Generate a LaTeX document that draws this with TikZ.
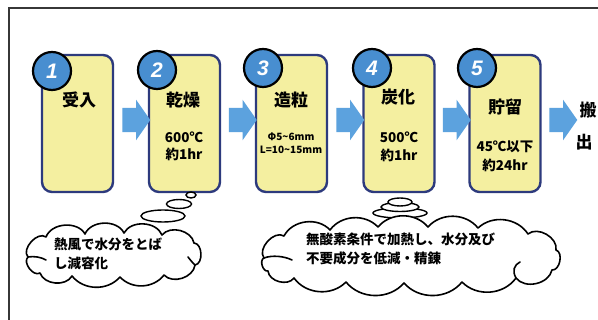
\documentclass[tikz,border=0pt]{standalone}
\usepackage{fontspec}
\newfontfamily\jp{Noto Sans CJK JP}
\newfontfamily\lat{Liberation Sans}
\usetikzlibrary{shapes.arrows,shapes.geometric,calc}
\definecolor{boxfill}{RGB}{244,239,160}
\definecolor{boxline}{RGB}{45,58,125}
\definecolor{numblue}{RGB}{72,142,208}
\definecolor{arrblue}{RGB}{92,162,222}
\definecolor{framec}{RGB}{55,55,55}
\begin{document}
\begin{tikzpicture}[x=1pt,y=-1pt,
  stepbox/.style={draw=boxline, line width=2.4pt, fill=boxfill, rounded corners=10pt,
    minimum width=71pt, minimum height=137pt, inner sep=0pt},
  numcirc/.style={circle, fill=numblue, draw=black, line width=2.2pt, minimum size=38pt,
    inner sep=0pt, text=white, font=\lat\bfseries\itshape\fontsize{21}{21}\selectfont},
  title/.style={font=\jp\bfseries\fontsize{17}{17}\selectfont, inner sep=0pt},
  sub/.style={font=\jp\bfseries\fontsize{13.5}{13.5}\selectfont, inner sep=0pt},
  subsmall/.style={font=\jp\bfseries\fontsize{10}{10}\selectfont, inner sep=0pt},
  blockarrow/.style={single arrow, fill=arrblue, draw=none, inner xsep=0pt, inner ysep=12pt,
    minimum height=28pt, single arrow head extend=8pt, single arrow tip angle=110},
  cloudline/.style={draw=black, line width=1.6pt, fill=white, line join=round},
  puff/.style={bend left=#1},
  bubble/.style={ellipse, draw=black, line width=1.4pt, fill=white, inner sep=0pt},
  curl/.style={draw=black, line width=1.6pt, line cap=round},
  cloudtext/.style={font=\jp\bfseries\fontsize{13.5}{19}\selectfont, inner sep=0pt,
    align=left, anchor=west}
]
\useasboundingbox (0,0) rectangle (598,320);
\clip (0,0) rectangle (598,320);
\fill[white] (0,0) rectangle (598,320);
% frame
\coordinate (fbl) at (9,321);
\coordinate (ftl) at (9,8);
\coordinate (ftr) at (599,8);
\draw[framec, line width=1.8pt] (fbl) -- (ftl) -- (ftr);

% boxes
\node[stepbox] (b1) at (77.5,123.5) {};
\node[stepbox] (b2) at (184.5,123.5) {};
\node[stepbox] (b3) at (291.5,123.5) {};
\node[stepbox] (b4) at (399,123.5) {};
\node[stepbox] (b5) at (505,123.5) {};

% circles
\node[numcirc] (c1) at (52,71) {1};
\node[numcirc] (c2) at (157,70) {2};
\node[numcirc] (c3) at (263,68) {3};
\node[numcirc] (c4) at (372,68) {4};
\node[numcirc] (c5) at (477,68) {5};

% titles
\node[title] (t1) at (79,100) {受入};
\node[title] (t2) at (183,100) {乾燥};
\node[title] (t3) at (291,100) {造粒};
\node[title] (t4) at (398,97) {炭化};
\node[title] (t5) at (505,107) {貯留};

% sub texts
\node[sub] (s2a) at (184,137) {600℃};
\node[sub] (s2b) at (184,154) {約1hr};
\node[subsmall] (s3a) at (291,137) {Φ5\char"007E 6mm};
\node[subsmall] (s3b) at (291,150) {L=10\char"007E 15mm};
\node[sub] (s4a) at (399,137) {500℃};
\node[sub] (s4b) at (399,155) {約1hr};
\node[sub] (s5a) at (505,147) {45℃以下};
\node[sub] (s5b) at (505,165) {約24hr};

% arrows
\node[blockarrow] (a1) at (132,120) {};
\node[blockarrow] (a2) at (238.5,120) {};
\node[blockarrow] (a3) at (346,120) {};
\node[blockarrow] (a4) at (452.5,120) {};
\node[blockarrow] (a5) at (559,120) {};

\node[title] (o1) at (588,110) {搬};
\node[title] (o2) at (584,142) {出};

% cloud 1
\node[bubble, minimum width=10pt, minimum height=6pt] (e1) at (191,195) {};
\node[bubble, minimum width=25pt, minimum height=9pt] (e2) at (179,204) {};
\node[bubble, minimum width=44pt, minimum height=12pt] (e3) at (163,216) {};
\coordinate (p1) at (28,257);
\coordinate (p2) at (46,237);
\coordinate (p3) at (85,234);
\coordinate (p4) at (124,233);
\coordinate (p5) at (162,235);
\coordinate (p6) at (194,243);
\coordinate (p7) at (195,265);
\coordinate (p8) at (164,275);
\coordinate (p9) at (120,277);
\coordinate (p10) at (72,276);
\coordinate (p11) at (40,273);
\draw[cloudline] (p1) to[puff=85] (p2) to[puff=65] (p3) to[puff=65] (p4) to[puff=65] (p5)
  to[puff=65] (p6) to[puff=85] (p7) to[puff=65] (p8) to[puff=50] (p9) to[puff=50] (p10)
  to[puff=65] (p11) to[puff=85] (p1) -- cycle;
\coordinate (k1a) at (28,257);
\coordinate (k1b) at (46,260);
\draw[curl] (k1a) .. controls (34,256) and (41,257) .. (k1b);
\coordinate (k1c) at (195,265);
\coordinate (k1d) at (188,257);
\draw[curl] (k1c) .. controls (192,262) .. (k1d);
\node[cloudtext] (ct1) at (54,254) {熱風で水分をとば\\し減容化};

% cloud 2
\node[bubble, minimum width=54pt, minimum height=10pt] (f3) at (400,213) {};
\node[bubble, minimum width=38pt, minimum height=9pt] (f2) at (400,207) {};
\node[bubble, minimum width=24pt, minimum height=8pt] (f1) at (400,202) {};
\coordinate (q1) at (264,258);
\coordinate (q2) at (284,236);
\coordinate (q3) at (330,230);
\coordinate (q4) at (378,227);
\coordinate (q5) at (428,227);
\coordinate (q6) at (478,228);
\coordinate (q7) at (528,234);
\coordinate (q8) at (556,250);
\coordinate (q9) at (552,270);
\coordinate (q10) at (516,278);
\coordinate (q11) at (462,282);
\coordinate (q12) at (404,283);
\coordinate (q13) at (346,282);
\coordinate (q14) at (294,278);
\coordinate (q15) at (268,271);
\draw[cloudline] (q1) to[puff=80] (q2) to[puff=55] (q3) to[puff=50] (q4) to[puff=50] (q5)
  to[puff=50] (q6) to[puff=50] (q7) to[puff=70] (q8) to[puff=85] (q9) to[puff=65] (q10)
  to[puff=50] (q11) to[puff=50] (q12) to[puff=50] (q13) to[puff=50] (q14)
  to[puff=70] (q15) to[puff=85] (q1) -- cycle;
\coordinate (k2a) at (264,258);
\coordinate (k2b) at (292,260);
\draw[curl] (k2a) .. controls (272,255) and (284,256) .. (k2b);
\coordinate (k2c) at (516,278);
\coordinate (k2d) at (520,262);
\draw[curl] (k2c) .. controls (512,271) and (514,265) .. (k2d);
\node[cloudtext] (ct2) at (306,249) {無酸素条件で加熱し、水分及び\\不要成分を低減・精錬};
\end{tikzpicture}
\end{document}
